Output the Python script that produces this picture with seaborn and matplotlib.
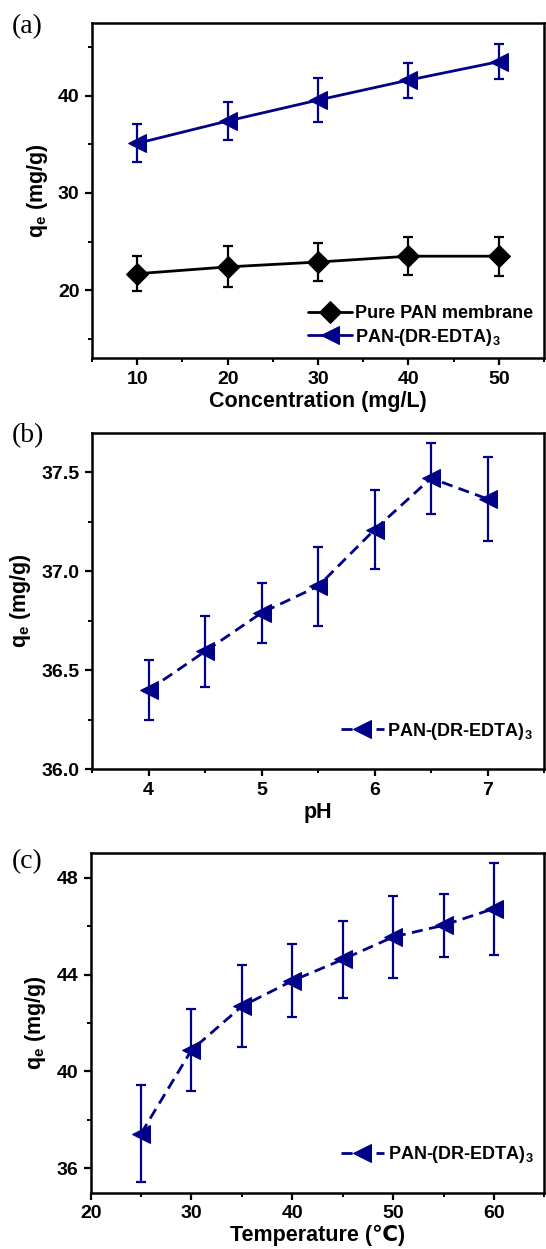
import numpy as np
import pandas as pd
import matplotlib
matplotlib.use("Agg")
import matplotlib.pyplot as plt
from matplotlib.ticker import MultipleLocator, FormatStrFormatter
import seaborn as sns

# --- data ---
conc = [10, 20, 30, 40, 50]
pure_qe = [21.7, 22.4, 22.9, 23.5, 23.5]
pure_err = [1.8, 2.1, 2.0, 1.95, 2.0]
dr_qe = [35.1, 37.4, 39.55, 41.6, 43.5]
dr_err = [1.95, 2.0, 2.3, 1.8, 1.8]

ph = [4, 4.5, 5, 5.5, 6, 6.5, 7]
ph_qe = [36.40, 36.595, 36.79, 36.924, 37.21, 37.47, 37.365]
ph_err = [0.15, 0.18, 0.15, 0.20, 0.20, 0.18, 0.21]

temp = [25, 30, 35, 40, 45, 50, 55, 60]
temp_qe = [37.44, 40.88, 42.69, 43.74, 44.62, 45.55, 46.03, 46.72]
temp_err = [2.0, 1.7, 1.7, 1.5, 1.6, 1.7, 1.3, 1.9]

NAVY = "#000088"
DR_LABEL = r"PAN-(DR-EDTA)$_\mathbf{3}$"
YLABEL = r"q$_\mathbf{e}$ (mg/g)"

sns.set_theme(style="ticks")
plt.rcParams["font.family"] = ["Liberation Sans", "DejaVu Sans"]
plt.rcParams["font.weight"] = "bold"
plt.rcParams["axes.labelweight"] = "bold"
plt.rcParams["text.color"] = "black"
plt.rcParams["axes.labelcolor"] = "black"
plt.rcParams["xtick.color"] = "black"
plt.rcParams["ytick.color"] = "black"
plt.rcParams["mathtext.fontset"] = "custom"
plt.rcParams["mathtext.rm"] = "Liberation Sans:bold"
plt.rcParams["mathtext.bf"] = "Liberation Sans:bold"
plt.rcParams["mathtext.it"] = "Liberation Sans:bold"
plt.rcParams["axes.edgecolor"] = "black"

fig = plt.figure(figsize=(5.46, 12.49), dpi=100)
ax_a = fig.add_axes([0.1685, 0.7131, 0.828, 0.2687])
ax_b = fig.add_axes([0.1685, 0.3841, 0.828, 0.2695])
ax_c = fig.add_axes([0.166, 0.0451, 0.831, 0.2717])


def style_axis(ax, xmaj, xmin, ymaj, ymin):
    ax.xaxis.set_major_locator(MultipleLocator(xmaj))
    ax.xaxis.set_minor_locator(MultipleLocator(xmin))
    ax.yaxis.set_major_locator(MultipleLocator(ymaj))
    ax.yaxis.set_minor_locator(MultipleLocator(ymin))
    ax.tick_params(which="major", direction="out", length=5, width=1.6,
                   pad=4, labelsize=14)
    ax.tick_params(which="minor", direction="out", length=3, width=1.4)
    for lab in ax.get_xticklabels() + ax.get_yticklabels():
        lab.set_fontweight("bold")
    for s in ax.spines.values():
        s.set_visible(True)
        s.set_linewidth(1.8)


def series(ax, x, y, err, color, marker, label, dashed, ms=13):
    df = pd.DataFrame({"x": x, "y": y})
    sns.lineplot(data=df, x="x", y="y", ax=ax, color=color, marker=marker,
                 markersize=ms, markeredgecolor=color, linewidth=2,
                 label=label)
    if dashed:
        ax.lines[-1].set_linestyle((0, (4, 2.3)))
    ax.errorbar(x, y, yerr=err, fmt="none", ecolor=color, elinewidth=1.6,
                capsize=3.3, capthick=1.6)


def add_legend(ax, anchor):
    ax.legend(loc="lower right", bbox_to_anchor=anchor, frameon=False,
              fontsize=13, handlelength=2.4, handletextpad=0.2,
              labelspacing=0.25, borderaxespad=0.2)


# (a) concentration
series(ax_a, conc, pure_qe, pure_err, "black", "D", "Pure PAN membrane", False, ms=11)
series(ax_a, conc, dr_qe, dr_err, NAVY, "<", DR_LABEL, False)
ax_a.set_xlim(5, 55)
ax_a.set_ylim(13, 47.5)
style_axis(ax_a, 10, 5, 10, 5)
ax_a.set_xlabel("Concentration (mg/L)", fontsize=15.5, labelpad=2)
ax_a.set_ylabel(YLABEL, fontsize=15.5, labelpad=6)
add_legend(ax_a, (1.0, 0.0))

# (b) pH
series(ax_b, ph, ph_qe, ph_err, NAVY, "<", DR_LABEL, True)
ax_b.set_xlim(3.5, 7.5)
ax_b.set_ylim(36.0, 37.7)
style_axis(ax_b, 1, 0.5, 0.5, 0.25)
ax_b.yaxis.set_major_formatter(FormatStrFormatter("%.1f"))
ax_b.set_xlabel("pH", fontsize=15.5, labelpad=2)
ax_b.set_ylabel(YLABEL, fontsize=15.5, labelpad=6)
add_legend(ax_b, (1.0, 0.05))

# (c) temperature
series(ax_c, temp, temp_qe, temp_err, NAVY, "<", DR_LABEL, True)
ax_c.set_xlim(20, 65)
ax_c.set_ylim(35, 49)
style_axis(ax_c, 10, 5, 4, 2)
ax_c.set_xlabel("Temperature (\u2103)", fontsize=15.5, labelpad=2)
ax_c.set_ylabel(YLABEL, fontsize=15.5, labelpad=6)
add_legend(ax_c, (1.0, 0.05))

# panel letters
for lab, yy in [("(a)", 1 - 27 / 1249), ("(b)", 1 - 436 / 1249), ("(c)", 1 - 862 / 1249)]:
    fig.text(0.022, yy, lab, fontsize=20, family="Liberation Serif",
             fontweight="normal", va="center")

fig.savefig("out.png", dpi=100)
